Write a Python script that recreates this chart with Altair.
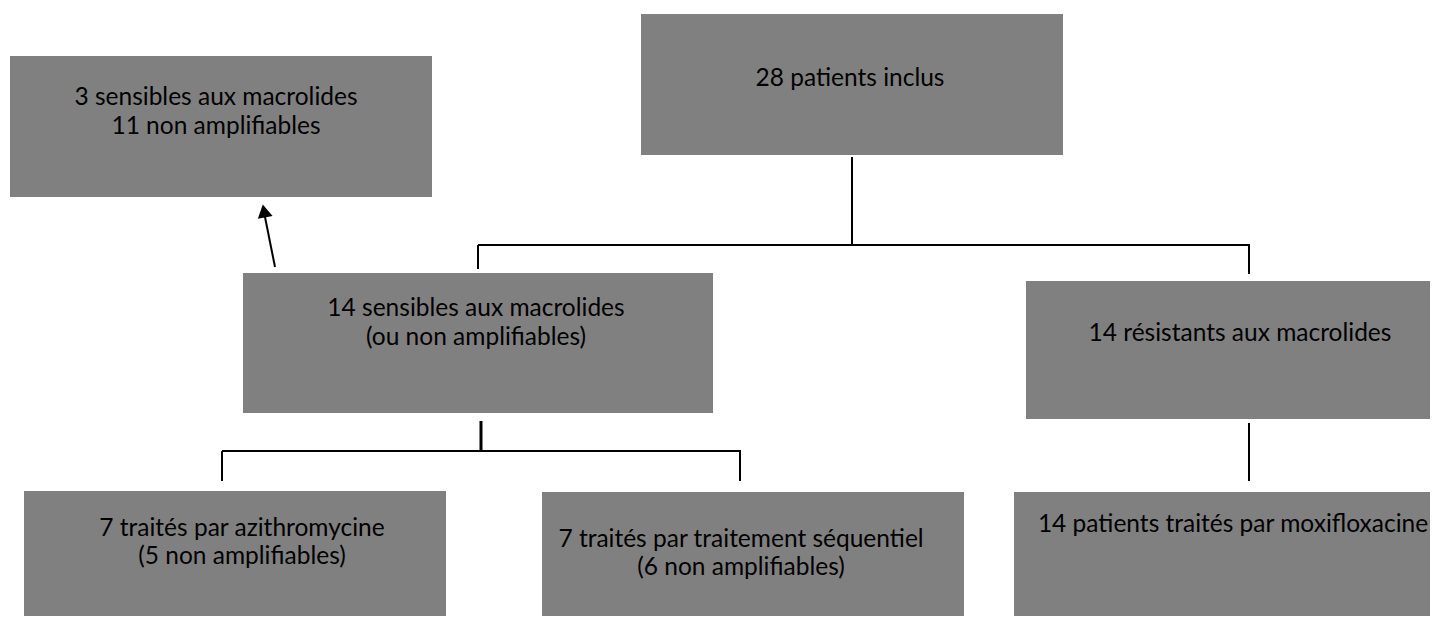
import altair as alt
import pandas as pd

# Boxes (page pixel coordinates)
box_x0 = [10, 641, 243, 1026, 24, 542, 1014]
box_x1 = [432, 1063, 713, 1438, 446, 964, 1438]
box_y0 = [56, 14, 273, 281, 491, 492, 492]
box_y1 = [197, 155, 413, 419, 624, 624, 624]

# Text lines: centre x, baseline y, text
txt_x = [216, 216, 850, 476, 476, 1240, 242, 242, 741, 741, 1233]
txt_y = [105, 134, 86, 316, 345, 341, 536, 564, 547, 575, 532]
txt_s = [
    "3 sensibles aux macrolides",
    "11 non amplifiables",
    "28 patients inclus",
    "14 sensibles aux macrolides",
    "(ou non amplifiables)",
    "14 résistants aux macrolides",
    "7 traités par azithromycine",
    "(5 non amplifiables)",
    "7 traités par traitement séquentiel",
    "(6 non amplifiables)",
    "14 patients traités par moxifloxacine",
]

# Connector segments
seg_x1 = [852, 478, 478, 1249, 481, 222, 222, 740, 1249, 275]
seg_y1 = [157, 245, 245, 245, 421, 451, 451, 451, 423, 267]
seg_x2 = [852, 1250, 478, 1249, 481, 741, 222, 740, 1249, 264]
seg_y2 = [245, 245, 269, 274, 452, 451, 481, 481, 481, 212]
seg_w = [2, 2, 2, 2, 3, 2, 2, 2, 2, 2]

# Arrow head
head_x = [264]
head_y = [211]

boxes = pd.DataFrame({"x0": box_x0, "x1": box_x1, "y0": box_y0, "y1": box_y1})
texts = pd.DataFrame({"x": txt_x, "y": txt_y, "t": txt_s})
segs = pd.DataFrame({"x1": seg_x1, "y1": seg_y1, "x2": seg_x2, "y2": seg_y2, "w": seg_w})
heads = pd.DataFrame({"x": head_x, "y": head_y})

xs = alt.Scale(domain=[8, 1430], nice=False, zero=False)
ys = alt.Scale(domain=[8, 616], nice=False, zero=False, reverse=True)

rects = alt.Chart(boxes).mark_rect(color="#808080", clip=True).encode(
    x=alt.X("x0:Q", scale=xs, axis=None),
    x2="x1:Q",
    y=alt.Y("y0:Q", scale=ys, axis=None),
    y2="y1:Q",
)

rules = alt.Chart(segs).mark_rule(color="black").encode(
    x=alt.X("x1:Q", scale=xs, axis=None),
    x2="x2:Q",
    y=alt.Y("y1:Q", scale=ys, axis=None),
    y2="y2:Q",
    strokeWidth=alt.StrokeWidth("w:Q", scale=None),
)

head = alt.Chart(heads).mark_point(
    shape="triangle-up", filled=True, color="black", size=225, angle=349, opacity=1
).encode(
    x=alt.X("x:Q", scale=xs, axis=None),
    y=alt.Y("y:Q", scale=ys, axis=None),
)

labels = alt.Chart(texts).mark_text(
    font="Lato", fontSize=24.5, align="center", baseline="alphabetic", color="#000000"
).encode(
    x=alt.X("x:Q", scale=xs, axis=None),
    y=alt.Y("y:Q", scale=ys, axis=None),
    text="t:N",
)

chart = (
    alt.layer(rects, rules, head, labels)
    .properties(
        width=1422,
        height=608,
        padding=0,
        autosize=alt.AutoSizeParams(type="fit", contains="padding"),
        background="white",
    )
    .configure_view(stroke=None)
)

chart.save("out.html", embed_options={"renderer": "svg", "actions": False})
